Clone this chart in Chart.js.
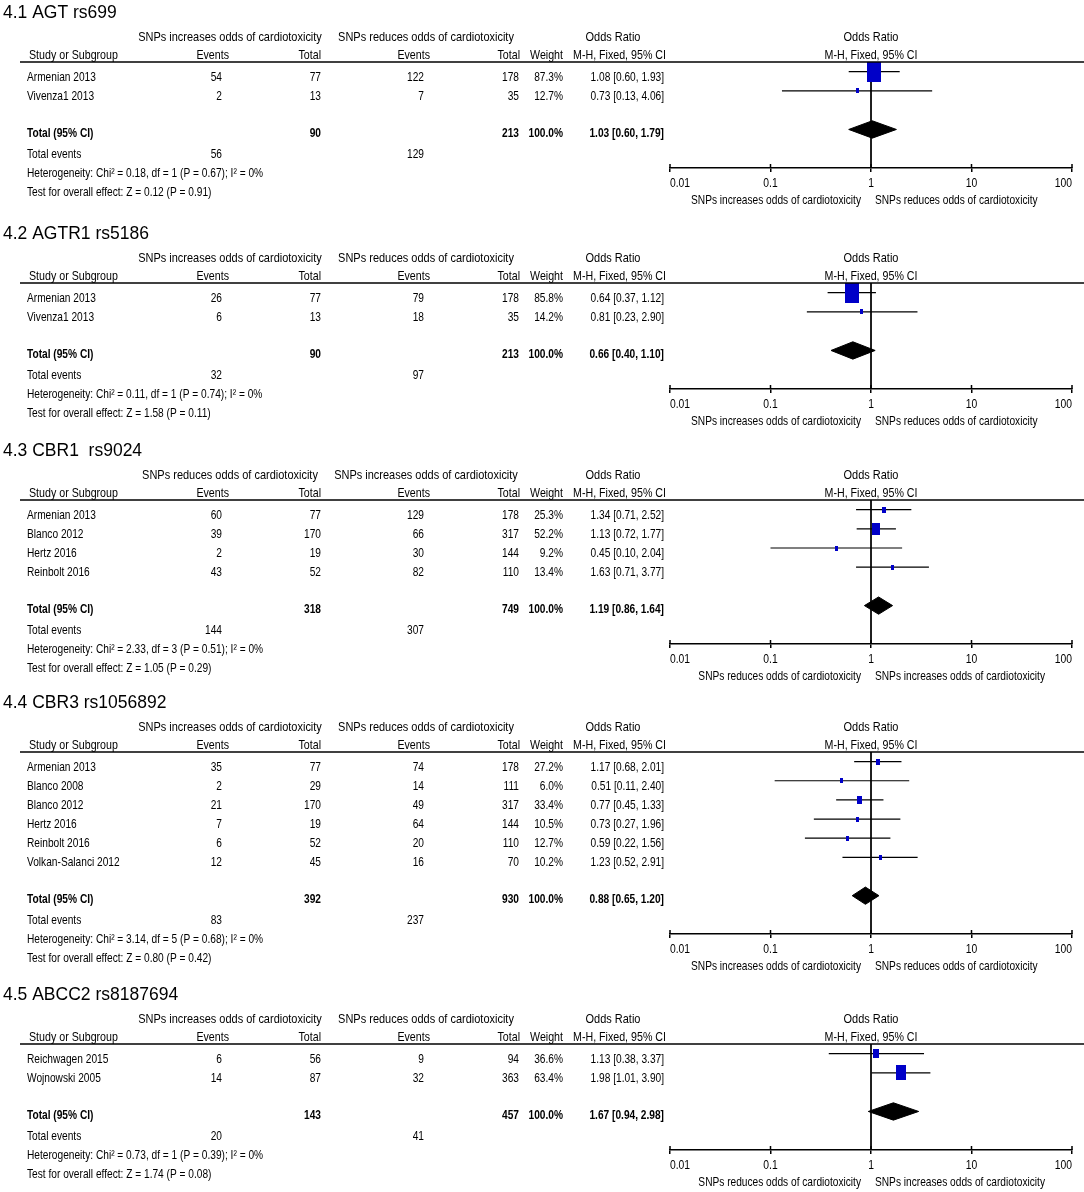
<!DOCTYPE html>
<html lang="en">
<head>
<meta charset="UTF-8" />
<title>Forest plots - SNPs and cardiotoxicity</title>
<script src="https://cdn.jsdelivr.net/npm/chart.js"></script>
<style>
  body { margin: 0; background: #fff; }
  #wrap { position: relative; width: 1084px; height: 1192px; overflow: hidden; background: #fff; }
  #wrap canvas { position: absolute; left: 0; }
</style>
</head>
<body>
<div id="wrap"></div>
<script>
// ---- data: 4.1 AGT rs699
const p1Title = "4.1 AGT rs699";
const p1Groups = ["SNPs increases odds of cardiotoxicity", "SNPs reduces odds of cardiotoxicity"];
const p1Studies = ["Armenian 2013", "Vivenza1 2013"];
const p1EventsA = [54, 2];
const p1TotalA = [77, 13];
const p1EventsB = [122, 7];
const p1TotalB = [178, 35];
const p1Weight = ["87.3%", "12.7%"];
const p1OR = [1.08, 0.73];
const p1Lo = [0.60, 0.13];
const p1Hi = [1.93, 4.06];
const p1Pooled = [1.03, 0.60, 1.79];
const p1Sums = [90, 213, 56, 129];
const p1Het = "Heterogeneity: Chi² = 0.18, df = 1 (P = 0.67); I² = 0%";
const p1Test = "Test for overall effect: Z = 0.12 (P = 0.91)";
const p1Favours = ["SNPs increases odds of cardiotoxicity", "SNPs reduces odds of cardiotoxicity"];

// ---- data: 4.2 AGTR1 rs5186
const p2Title = "4.2 AGTR1 rs5186";
const p2Groups = ["SNPs increases odds of cardiotoxicity", "SNPs reduces odds of cardiotoxicity"];
const p2Studies = ["Armenian 2013", "Vivenza1 2013"];
const p2EventsA = [26, 6];
const p2TotalA = [77, 13];
const p2EventsB = [79, 18];
const p2TotalB = [178, 35];
const p2Weight = ["85.8%", "14.2%"];
const p2OR = [0.64, 0.81];
const p2Lo = [0.37, 0.23];
const p2Hi = [1.12, 2.90];
const p2Pooled = [0.66, 0.40, 1.10];
const p2Sums = [90, 213, 32, 97];
const p2Het = "Heterogeneity: Chi² = 0.11, df = 1 (P = 0.74); I² = 0%";
const p2Test = "Test for overall effect: Z = 1.58 (P = 0.11)";
const p2Favours = ["SNPs increases odds of cardiotoxicity", "SNPs reduces odds of cardiotoxicity"];

// ---- data: 4.3 CBR1 rs9024
const p3Title = "4.3 CBR1  rs9024";
const p3Groups = ["SNPs reduces odds of cardiotoxicity", "SNPs increases odds of cardiotoxicity"];
const p3Studies = ["Armenian 2013", "Blanco 2012", "Hertz 2016", "Reinbolt 2016"];
const p3EventsA = [60, 39, 2, 43];
const p3TotalA = [77, 170, 19, 52];
const p3EventsB = [129, 66, 30, 82];
const p3TotalB = [178, 317, 144, 110];
const p3Weight = ["25.3%", "52.2%", "9.2%", "13.4%"];
const p3OR = [1.34, 1.13, 0.45, 1.63];
const p3Lo = [0.71, 0.72, 0.10, 0.71];
const p3Hi = [2.52, 1.77, 2.04, 3.77];
const p3Pooled = [1.19, 0.86, 1.64];
const p3Sums = [318, 749, 144, 307];
const p3Het = "Heterogeneity: Chi² = 2.33, df = 3 (P = 0.51); I² = 0%";
const p3Test = "Test for overall effect: Z = 1.05 (P = 0.29)";
const p3Favours = ["SNPs reduces odds of cardiotoxicity", "SNPs increases odds of cardiotoxicity"];

// ---- data: 4.4 CBR3 rs1056892
const p4Title = "4.4 CBR3 rs1056892";
const p4Groups = ["SNPs increases odds of cardiotoxicity", "SNPs reduces odds of cardiotoxicity"];
const p4Studies = ["Armenian 2013", "Blanco 2008", "Blanco 2012", "Hertz 2016", "Reinbolt 2016", "Volkan-Salanci 2012"];
const p4EventsA = [35, 2, 21, 7, 6, 12];
const p4TotalA = [77, 29, 170, 19, 52, 45];
const p4EventsB = [74, 14, 49, 64, 20, 16];
const p4TotalB = [178, 111, 317, 144, 110, 70];
const p4Weight = ["27.2%", "6.0%", "33.4%", "10.5%", "12.7%", "10.2%"];
const p4OR = [1.17, 0.51, 0.77, 0.73, 0.59, 1.23];
const p4Lo = [0.68, 0.11, 0.45, 0.27, 0.22, 0.52];
const p4Hi = [2.01, 2.40, 1.33, 1.96, 1.56, 2.91];
const p4Pooled = [0.88, 0.65, 1.20];
const p4Sums = [392, 930, 83, 237];
const p4Het = "Heterogeneity: Chi² = 3.14, df = 5 (P = 0.68); I² = 0%";
const p4Test = "Test for overall effect: Z = 0.80 (P = 0.42)";
const p4Favours = ["SNPs increases odds of cardiotoxicity", "SNPs reduces odds of cardiotoxicity"];

// ---- data: 4.5 ABCC2 rs8187694
const p5Title = "4.5 ABCC2 rs8187694";
const p5Groups = ["SNPs increases odds of cardiotoxicity", "SNPs reduces odds of cardiotoxicity"];
const p5Studies = ["Reichwagen 2015", "Wojnowski 2005"];
const p5EventsA = [6, 14];
const p5TotalA = [56, 87];
const p5EventsB = [9, 32];
const p5TotalB = [94, 363];
const p5Weight = ["36.6%", "63.4%"];
const p5OR = [1.13, 1.98];
const p5Lo = [0.38, 1.01];
const p5Hi = [3.37, 3.90];
const p5Pooled = [1.67, 0.94, 2.98];
const p5Sums = [143, 457, 20, 41];
const p5Het = "Heterogeneity: Chi² = 0.73, df = 1 (P = 0.39); I² = 0%";
const p5Test = "Test for overall effect: Z = 1.74 (P = 0.08)";
const p5Favours = ["SNPs reduces odds of cardiotoxicity", "SNPs increases odds of cardiotoxicity"];

const xTicks = [0.01, 0.1, 1, 10, 100];
const xTickLabels = ["0.01", "0.1", "1", "10", "100"];

const panels = [
  { title: p1Title, groups: p1Groups, studies: p1Studies, eA: p1EventsA, tA: p1TotalA, eB: p1EventsB, tB: p1TotalB, weight: p1Weight, or: p1OR, lo: p1Lo, hi: p1Hi, pooled: p1Pooled, sums: p1Sums, het: p1Het, test: p1Test, favours: p1Favours, lineY: 62 },
  { title: p2Title, groups: p2Groups, studies: p2Studies, eA: p2EventsA, tA: p2TotalA, eB: p2EventsB, tB: p2TotalB, weight: p2Weight, or: p2OR, lo: p2Lo, hi: p2Hi, pooled: p2Pooled, sums: p2Sums, het: p2Het, test: p2Test, favours: p2Favours, lineY: 283 },
  { title: p3Title, groups: p3Groups, studies: p3Studies, eA: p3EventsA, tA: p3TotalA, eB: p3EventsB, tB: p3TotalB, weight: p3Weight, or: p3OR, lo: p3Lo, hi: p3Hi, pooled: p3Pooled, sums: p3Sums, het: p3Het, test: p3Test, favours: p3Favours, lineY: 500 },
  { title: p4Title, groups: p4Groups, studies: p4Studies, eA: p4EventsA, tA: p4TotalA, eB: p4EventsB, tB: p4TotalB, weight: p4Weight, or: p4OR, lo: p4Lo, hi: p4Hi, pooled: p4Pooled, sums: p4Sums, het: p4Het, test: p4Test, favours: p4Favours, lineY: 752 },
  { title: p5Title, groups: p5Groups, studies: p5Studies, eA: p5EventsA, tA: p5TotalA, eB: p5EventsB, tB: p5TotalB, weight: p5Weight, or: p5OR, lo: p5Lo, hi: p5Hi, pooled: p5Pooled, sums: p5Sums, het: p5Het, test: p5Test, favours: p5Favours, lineY: 1044 }
];

// ---- layout
const TOP = 62;        // header line inside each canvas
const ROW = 19.2;      // row height in px
const AXIS_H = 44;     // space under the axis line
const BLUE = "#0000c8";
// numbers / header right edges
const COL = { name: 27, head: 29, eA: 222, eAh: 229, tA: 321, tAh: 321, eB: 424, eBh: 430, tB: 519, tBh: 520, w: 563, or: 664, orHead: 613, gA: 230, gB: 426 };

function hasFont(name) {
  const c = document.createElement("canvas").getContext("2d");
  const s = "Heterogeneity 0123456789";
  c.font = "20px monospace";
  const a = c.measureText(s).width;
  c.font = `20px "${name}", monospace`;
  return c.measureText(s).width !== a;
}
const NARROW = hasFont("Liberation Sans Narrow");
const FAMILY = NARROW ? '"Liberation Sans Narrow", "Liberation Sans"' : '"Liberation Sans", Arial';
const SQUEEZE = NARROW ? 1 : 0.82;

function txt(ctx, s, x, y, align, bold, size) {
  ctx.save();
  ctx.font = (bold ? "bold " : "") + (size || 12.4) + "px " + FAMILY;
  ctx.fillStyle = "#000";
  ctx.textAlign = align || "left";
  ctx.textBaseline = "middle";
  ctx.translate(x, y);
  ctx.scale(SQUEEZE, 1);
  ctx.fillText(s, 0, 0);
  ctx.restore();
}

function box(weight) {
  const w = parseFloat(weight);
  const bw = Math.max(3, Math.round(w * 0.16));
  const bh = Math.round(bw * 1.35 + 1);
  const c = document.createElement("canvas");
  c.width = bw; c.height = bh;
  const g = c.getContext("2d");
  g.fillStyle = BLUE;
  g.fillRect(0, 0, bw, bh);
  return c;
}

const tablePlugin = {
  id: "table",
  afterDraw(chart) {
    const p = chart.options.plugins.table.panel;
    const ctx = chart.ctx;
    const x = chart.scales.x, y = chart.scales.y;
    const n = p.studies.length;
    const x1 = x.getPixelForValue(1);

    ctx.save();
    ctx.font = "17.5px \"Liberation Sans\", Arial";
    ctx.fillStyle = "#000";
    ctx.textBaseline = "middle";
    ctx.fillText(p.title, 3, TOP - 49);
    ctx.restore();

    const h1 = TOP - 25, h2 = TOP - 7;
    txt(ctx, p.groups[0], COL.gA, h1, "center", false, 13.4);
    txt(ctx, p.groups[1], COL.gB, h1, "center", false, 13.4);
    txt(ctx, "Odds Ratio", COL.orHead, h1, "center", false, 13.4);
    txt(ctx, "Odds Ratio", x1, h1, "center", false, 13.4);
    txt(ctx, "Study or Subgroup", COL.head, h2, "left", false, 13);
    txt(ctx, "Events", COL.eAh, h2, "right", false, 13);
    txt(ctx, "Total", COL.tAh, h2, "right", false, 13);
    txt(ctx, "Events", COL.eBh, h2, "right", false, 13);
    txt(ctx, "Total", COL.tBh, h2, "right", false, 13);
    txt(ctx, "Weight", COL.w, h2, "right", false, 13);
    txt(ctx, "M-H, Fixed, 95% CI", COL.or + 2, h2, "right", false, 13);
    txt(ctx, "M-H, Fixed, 95% CI", x1, h2, "center", false, 13);

    ctx.save();
    ctx.strokeStyle = "#000";
    ctx.lineWidth = 1.5;
    ctx.beginPath();
    ctx.moveTo(20, TOP);
    ctx.lineTo(chart.width, TOP);
    ctx.stroke();
    ctx.restore();

    const ci = (v, l, h) => `${v.toFixed(2)} [${l.toFixed(2)}, ${h.toFixed(2)}]`;
    p.studies.forEach((s, i) => {
      const ty = y.getPixelForValue(i) + 5.5;
      txt(ctx, s, COL.name, ty, "left");
      txt(ctx, String(p.eA[i]), COL.eA, ty, "right");
      txt(ctx, String(p.tA[i]), COL.tA, ty, "right");
      txt(ctx, String(p.eB[i]), COL.eB, ty, "right");
      txt(ctx, String(p.tB[i]), COL.tB, ty, "right");
      txt(ctx, p.weight[i], COL.w, ty, "right");
      txt(ctx, ci(p.or[i], p.lo[i], p.hi[i]), COL.or, ty, "right");
    });

    const ty = y.getPixelForValue(n + 1) + 4;
    txt(ctx, "Total (95% CI)", COL.name, ty, "left", true);
    txt(ctx, String(p.sums[0]), COL.tA, ty, "right", true);
    txt(ctx, String(p.sums[1]), COL.tB, ty, "right", true);
    txt(ctx, "100.0%", COL.w, ty, "right", true);
    txt(ctx, ci(p.pooled[0], p.pooled[1], p.pooled[2]), COL.or, ty, "right", true);
    txt(ctx, "Total events", COL.name, ty + 21, "left");
    txt(ctx, String(p.sums[2]), COL.eA, ty + 21, "right");
    txt(ctx, String(p.sums[3]), COL.eB, ty + 21, "right");
    txt(ctx, p.het, COL.name, ty + 40, "left");
    txt(ctx, p.test, COL.name, ty + 59, "left");

    // upper half of the tick marks and the tick labels, placed by the x scale
    const ay = chart.chartArea.bottom;
    ctx.save();
    ctx.strokeStyle = "#000";
    ctx.lineWidth = 1.5;
    ctx.beginPath();
    xTicks.forEach(v => {
      const px = x.getPixelForValue(v);
      ctx.moveTo(px, ay);
      ctx.lineTo(px, ay - 4);
    });
    ctx.stroke();
    ctx.restore();
    xTicks.forEach((v, i) => {
      const px = x.getPixelForValue(v);
      const al = i === 0 ? "left" : (i === xTicks.length - 1 ? "right" : "center");
      txt(ctx, xTickLabels[i], px, ay + 16, al, false, 12.6);
    });

    txt(ctx, p.favours[0], x1 - 10, ay + 33, "right");
    txt(ctx, p.favours[1], x1 + 4, ay + 33, "left");
  }
};

const wrap = document.getElementById("wrap");

panels.forEach(p => {
  const n = p.studies.length;
  const height = Math.round(TOP + (n + 3.5) * ROW + AXIS_H);
  const canvas = document.createElement("canvas");
  canvas.width = 1084;
  canvas.height = height;
  canvas.style.top = (p.lineY - TOP) + "px";
  wrap.appendChild(canvas);

  const datasets = [];
  // reference line at OR = 1
  datasets.push({
    data: [{ x: 1, y: -0.5 }, { x: 1, y: n + 3 }],
    showLine: true, borderColor: "#000", borderWidth: 1, pointRadius: 0, order: 4
  });
  // confidence intervals
  p.studies.forEach((s, i) => {
    datasets.push({
      data: [{ x: p.lo[i], y: i }, { x: p.hi[i], y: i }],
      showLine: true, borderColor: "#000", borderWidth: 1.2, pointRadius: 0, order: 3
    });
  });
  // study estimates
  datasets.push({
    data: p.or.map((v, i) => ({ x: v, y: i })),
    pointStyle: p.weight.map(box),
    pointRadius: 5, order: 1
  });
  // pooled diamond
  const t = n + 1;
  datasets.push({
    data: [
      { x: p.pooled[1], y: t }, { x: p.pooled[0], y: t - 0.45 },
      { x: p.pooled[2], y: t }, { x: p.pooled[0], y: t + 0.45 },
      { x: p.pooled[1], y: t }
    ],
    showLine: true, fill: "shape", backgroundColor: "#000", borderColor: "#000",
    borderWidth: 1, pointRadius: 0, order: 2
  });

  new Chart(canvas, {
    type: "scatter",
    data: { datasets },
    plugins: [tablePlugin],
    options: {
      responsive: false,
      animation: false,
      events: [],
      layout: { padding: { left: 670, right: 12, top: TOP, bottom: 0 } },
      plugins: {
        legend: { display: false },
        tooltip: { enabled: false },
        table: { panel: p }
      },
      scales: {
        x: {
          type: "logarithmic",
          min: 0.01,
          max: 100,
          afterBuildTicks: s => { s.ticks = xTicks.map(v => ({ value: v })); },
          afterFit: s => { s.height = AXIS_H; s.paddingLeft = 0; s.paddingRight = 0; },
          ticks: { display: false },
          grid: { drawOnChartArea: false, drawTicks: true, tickLength: 4, color: "#000", lineWidth: 1.5 },
          border: { display: true, color: "#000", width: 1.5 }
        },
        y: {
          type: "linear",
          display: false,
          reverse: true,
          min: -0.5,
          max: n + 3
        }
      }
    }
  });
});
</script>
</body>
</html>
